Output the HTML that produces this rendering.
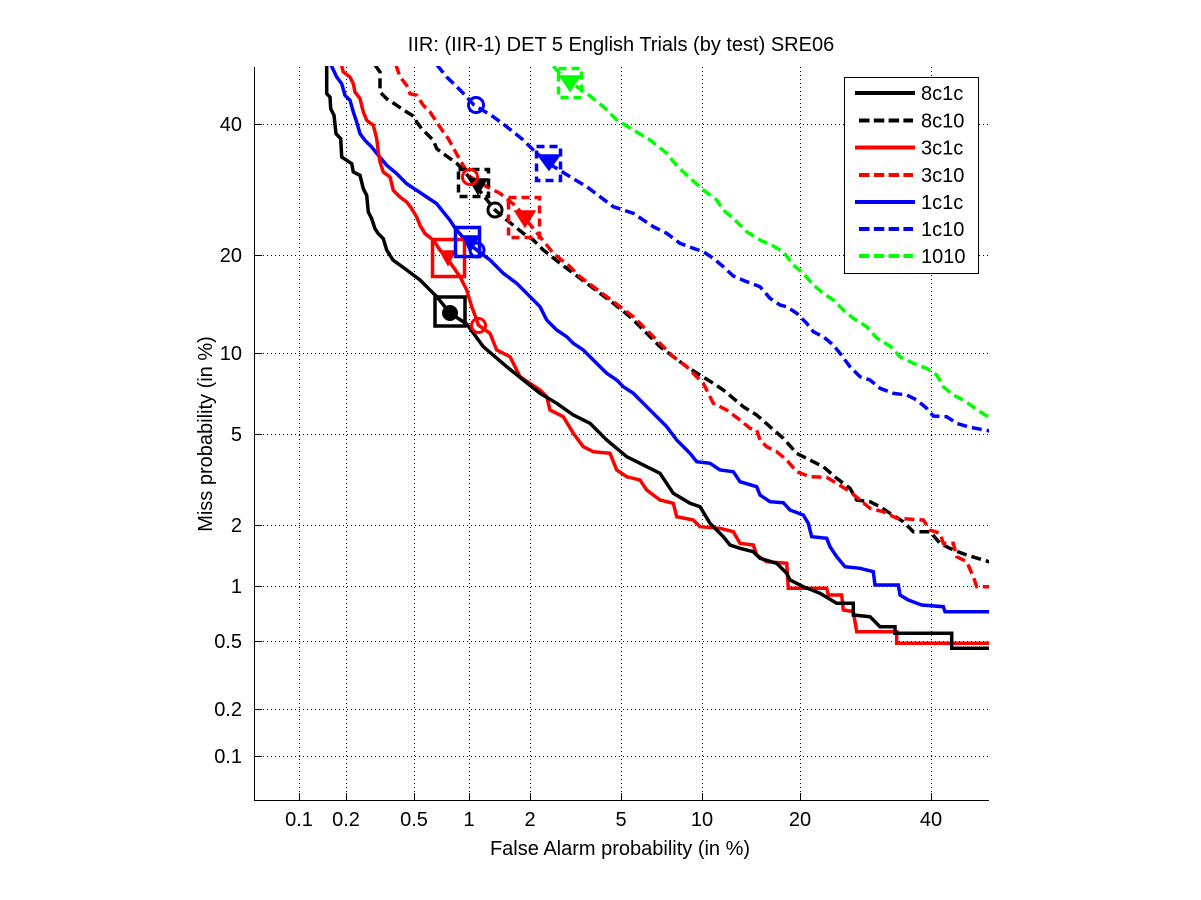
<!DOCTYPE html>
<html><head><meta charset="utf-8"><style>
html,body{margin:0;padding:0;background:#fff;}
svg{display:block;}
text{font-family:"Liberation Sans",Arial,sans-serif;font-size:20px;fill:#000;}
</style></head><body>
<svg width="1201" height="900" viewBox="0 0 1201 900" xmlns="http://www.w3.org/2000/svg">
<rect x="0" y="0" width="1201" height="900" fill="#fff"/>
<defs><clipPath id="pc"><rect x="254" y="66" width="735" height="735"/></clipPath></defs>
<!-- grid -->
<g stroke="#000" stroke-width="1" stroke-dasharray="1 3" fill="none">
<line x1="299.5" y1="67" x2="299.5" y2="800"/>
<line x1="346.5" y1="67" x2="346.5" y2="800"/>
<line x1="414.5" y1="67" x2="414.5" y2="800"/>
<line x1="469.5" y1="67" x2="469.5" y2="800"/>
<line x1="530.5" y1="67" x2="530.5" y2="800"/>
<line x1="621.5" y1="67" x2="621.5" y2="800"/>
<line x1="702.5" y1="67" x2="702.5" y2="800"/>
<line x1="800.5" y1="67" x2="800.5" y2="800"/>
<line x1="931.5" y1="67" x2="931.5" y2="800"/>
<line x1="255" y1="124.5" x2="988" y2="124.5"/>
<line x1="255" y1="255.5" x2="988" y2="255.5"/>
<line x1="255" y1="353.5" x2="988" y2="353.5"/>
<line x1="255" y1="434.5" x2="988" y2="434.5"/>
<line x1="255" y1="525.5" x2="988" y2="525.5"/>
<line x1="255" y1="586.5" x2="988" y2="586.5"/>
<line x1="255" y1="641.5" x2="988" y2="641.5"/>
<line x1="255" y1="709.5" x2="988" y2="709.5"/>
<line x1="255" y1="756.5" x2="988" y2="756.5"/>
</g>
<!-- axes -->
<g stroke="#000" stroke-width="1" fill="none">
<line x1="254.5" y1="67" x2="254.5" y2="801"/>
<line x1="254" y1="800.5" x2="989" y2="800.5"/>
<line x1="299.5" y1="800" x2="299.5" y2="793"/>
<line x1="346.5" y1="800" x2="346.5" y2="793"/>
<line x1="414.5" y1="800" x2="414.5" y2="793"/>
<line x1="469.5" y1="800" x2="469.5" y2="793"/>
<line x1="530.5" y1="800" x2="530.5" y2="793"/>
<line x1="621.5" y1="800" x2="621.5" y2="793"/>
<line x1="702.5" y1="800" x2="702.5" y2="793"/>
<line x1="800.5" y1="800" x2="800.5" y2="793"/>
<line x1="931.5" y1="800" x2="931.5" y2="793"/>
<line x1="255" y1="124.5" x2="262" y2="124.5"/>
<line x1="255" y1="255.5" x2="262" y2="255.5"/>
<line x1="255" y1="353.5" x2="262" y2="353.5"/>
<line x1="255" y1="434.5" x2="262" y2="434.5"/>
<line x1="255" y1="525.5" x2="262" y2="525.5"/>
<line x1="255" y1="586.5" x2="262" y2="586.5"/>
<line x1="255" y1="641.5" x2="262" y2="641.5"/>
<line x1="255" y1="709.5" x2="262" y2="709.5"/>
<line x1="255" y1="756.5" x2="262" y2="756.5"/>
</g>
<!-- tick labels -->
<g text-anchor="middle">
<text x="299" y="826">0.1</text>
<text x="346" y="826">0.2</text>
<text x="414" y="826">0.5</text>
<text x="469" y="826">1</text>
<text x="530" y="826">2</text>
<text x="621" y="826">5</text>
<text x="702" y="826">10</text>
<text x="800" y="826">20</text>
<text x="931" y="826">40</text>
</g>
<g text-anchor="end">
<text x="242" y="131">40</text>
<text x="242" y="262">20</text>
<text x="242" y="360">10</text>
<text x="242" y="441">5</text>
<text x="242" y="532">2</text>
<text x="242" y="593">1</text>
<text x="242" y="648">0.5</text>
<text x="242" y="716">0.2</text>
<text x="242" y="763">0.1</text>
</g>
<text x="621" y="51" text-anchor="middle">IIR: (IIR-1) DET 5 English Trials (by test) SRE06</text>
<text x="620" y="855" text-anchor="middle">False Alarm probability (in %)</text>
<text transform="translate(212,434) rotate(-90)" text-anchor="middle">Miss probability (in %)</text>

<g clip-path="url(#pc)" fill="none" stroke-width="3.5" stroke-linejoin="miter">
<!-- 1010 green dashed -->
<polyline stroke="#00ff00" stroke-dasharray="10 5" points="553.3,66 561,75 570,82 586.7,93.3 603.3,106.7 616.7,120 633.3,130 650,140 666.7,153.3 677,166 690,178 703.3,190 716.7,200 723.3,210 733.3,218.3 746.7,231.7 760,240 773.3,246 783.3,251.7 793.3,265 803.3,273.3 813.3,285 823.3,293.3 833.3,300 843.3,310 853.3,318.3 866.7,326.7 876.7,338 890,346 900,356.7 913.3,363.3 926.7,368.3 936.7,375 943.3,386.7 953.3,395 963.3,400 973.3,407 985,415 990,417"/>
<!-- 1c10 blue dashed -->
<polyline stroke="#0000ff" stroke-dasharray="10 5" points="437,65 446.7,77 453.3,83.3 463.3,93.3 474,105 493.3,116.7 506.7,126.7 523.3,140 533.3,150 548,163 570,176.7 586.7,186.7 600,196.7 613.3,206.7 633.3,213.3 653.3,226.7 666.7,233.3 680,243.3 693.3,248.3 703.3,251.7 713.3,258.3 723.3,266.7 733.3,276 746.7,281.7 760,286.7 770,298.3 780,305 786.7,306.7 796.7,313.3 806.7,323.3 813.3,331.7 823.3,336.7 833.3,345 840,353.3 850,366.7 860,376.7 870,380 880,388.3 893.3,393.3 906.7,395 916.7,400 926.7,408.3 933.3,416 946.7,416.7 956.7,423.3 970,427.3 990,431"/>
<!-- 8c10 black dashed -->
<polyline stroke="#000" stroke-dasharray="10 5" points="375,65 380,72 380,92 386.7,98.7 396.7,105.3 406.7,112 415,117 416.7,122 421.7,128.7 433.3,140.3 436.7,148.7 443.3,153.7 456.7,163.3 463.3,170 473,182 483,195 495,210 506.7,220 523.3,233.3 533.3,240 543.3,250 560,263.3 573.3,273.3 586.7,283.3 600,293.3 613.3,303.3 630,316.7 646.7,333.3 660,346.7 673.3,356.7 686.7,366.7 700,375 713.3,383.3 723.3,390 733.3,398.3 743.3,406.7 756.7,415 770,426.7 783.3,438.3 796.7,453.3 810,460 823.3,466.7 836.7,478.3 850,488.3 856.7,500 870,501.7 880,506.7 890,513.3 903.3,521.7 913.3,531.7 930,531.7 940,543.3 953.3,550 966.7,555 983.3,560 990,562"/>
<!-- 3c10 red dashed -->
<polyline stroke="#ff0000" stroke-dasharray="10 5" points="396,65 400,77 406.7,85.3 410,93.7 416.7,95.3 423.3,105.3 430,112 436.7,122 443.3,132 448.3,138.7 460,160 470,176.7 486.7,186.7 500,193.3 516.7,206.7 524,217 540,236.7 553.3,253.3 570,266.7 580,276.7 593.3,286.7 606.7,296.7 620,306.7 633.3,316.7 646.7,330 660,343.3 673.3,356.7 686.7,366.7 690,370 703.3,383.3 713.3,403.3 726.7,410 740,420 750,428.3 756.7,430 760,440 766.7,446.7 776.7,451.7 786.7,460 796.7,471.7 810,476.7 826.7,477.3 836.7,483.3 850,491.7 860,500 870,508.3 883.3,511.7 896.7,518.3 923.3,520 930,530 940,533.3 943.3,543.3 953.3,543.3 956.7,556.7 966.7,561.7 973.3,576.7 976.7,586.7 990,586.7"/>
<!-- 1c1c blue solid -->
<polyline stroke="#0000ff" points="331,65 336.7,77 341.7,83.7 345,95.3 350,100.3 353.3,112 356.7,122 360,133.7 365,140.3 371.7,147 378.3,155.3 386.7,165.3 396.7,173.7 406.7,183.7 416.7,190.3 426.7,197 436.7,203.7 443.3,212 450,220.3 455,228 467,242 476.7,250 490,260 503.3,273.3 516.7,283.3 526.7,293.3 540,306.7 546.7,320 556.7,330 566.7,336.7 573.3,343.3 583.3,350 593.3,360 606.7,373.3 616.7,380 623.3,386.7 633.3,393.3 643.3,403.3 656.7,416.7 666.7,426.7 676.7,440 686.7,450 690,453.3 696.7,461.7 710,463.3 720,470 733.3,471.7 740,481.7 756.7,486.7 760,495 770,501.7 783.3,502.7 790,510 803.3,515 808.3,523.3 811.7,536.7 826.7,538.3 830,546.7 836.7,556.7 845,566.7 860,568.3 873.3,571.7 875,585 898.3,585 900,595 908.3,600 921.7,605 943.3,606.7 945,611.7 990,611.7"/>
<!-- 3c1c red solid -->
<polyline stroke="#ff0000" points="341.5,65 343.3,72 350,77 353.3,83.7 355,92 360,98.7 363.3,112 366.7,120.3 373.3,125.3 376.7,138.7 378.3,152 380,162 383.3,172 390,177 393.3,190.3 400,197 406.7,202 411.7,208.7 416.7,217 420,225.3 425,233.7 433.3,240 440,250 447,258 460,276.7 466.7,290 471.7,306.7 476,318 478.3,325 490,333.3 496.7,350 510,356.7 520,376.7 530,383.3 540,390 546.7,396.7 550,410 563.3,416.7 573.3,433.3 583.3,446.7 593.3,451.7 610,453.3 616.7,470 626.7,476.7 640,480 646.7,490 660,500 673.3,503.3 676.7,516.7 693.3,520 700,526.7 720,528.3 733.3,531.7 740,543.3 753.3,545 756.7,555 766.7,561.7 786.7,563.3 788.3,588.3 826.7,588.3 828.3,595 841.7,595 843.3,610 853.3,611.7 856.7,631.7 896.7,631.7 896.7,643.3 990,643.3"/>
<!-- 8c1c black solid -->
<polyline stroke="#000" points="326.7,65 326.7,93.7 330,97 330.7,108.7 334,115.3 336,133.7 340.7,138.7 341.7,157 346.7,160.3 351.7,163.7 353.3,172 360,175.3 363.3,188.7 366.7,195.3 368.3,212 371.7,218.7 375,228.7 378.3,233.7 383.3,238.7 386.7,250 393,260 406.7,270 420,280 430,290 436.7,296.7 450,313 466.7,324 483.3,346.7 506.7,366.7 523.3,380 540,393.3 556.7,403.3 573.3,415 590,423.3 606.7,440 626.7,456.7 646.7,466.7 660,473.3 673.3,493.3 690,503.3 700,506.7 710,523.3 723.3,536.7 730,545 740,548.3 753.3,551.7 760,558.3 776.7,563.3 786.7,573.3 790,580 803.3,586.7 820,593.3 836.7,603.3 853.3,603.3 853.3,615 870,616.7 880,626.7 895,626.7 895,633.3 951.7,633.3 951.7,648.3 990,648.3"/>
</g>

<!-- markers -->
<g fill="none" stroke-width="3.5">
<rect x="435" y="297" width="30" height="29" stroke="#000"/>
<circle cx="450" cy="313" r="7" fill="#000" stroke="#000" stroke-width="2"/>
<rect x="432.5" y="239.5" width="32" height="37" stroke="#ff0000"/>
<polygon points="440,251 455,251 448,265" fill="#ff0000" stroke="#ff0000" stroke-width="1.5"/>
<circle cx="478.5" cy="325.5" r="7" stroke="#ff0000" stroke-width="3"/>
<rect x="455.5" y="227.5" width="24" height="29" stroke="#0000ff"/>
<polygon points="463,236 479,236 470,252" fill="#0000ff" stroke="#0000ff" stroke-width="1.5"/>
<circle cx="477" cy="250" r="7" stroke="#0000ff" stroke-width="3"/>
<rect x="458.5" y="169.5" width="30" height="27" stroke="#000" stroke-dasharray="8 5"/>
<polygon points="469,179 487,179 478,194" fill="#000" stroke="#000" stroke-width="1.5"/>
<circle cx="495" cy="210" r="7" stroke="#000" stroke-width="3"/>
<circle cx="495" cy="210" r="1.5" fill="#000" stroke="none"/>
<circle cx="470" cy="177" r="7.5" stroke="#ff0000" stroke-width="3"/>
<circle cx="470" cy="177" r="1.5" fill="#000" stroke="none"/>
<rect x="508.5" y="197.5" width="31" height="40" stroke="#ff0000" stroke-dasharray="8 5"/>
<polygon points="515,211 535,211 525,227" fill="#ff0000" stroke="#ff0000" stroke-width="1.5"/>
<rect x="536.5" y="146.5" width="24" height="34" stroke="#0000ff" stroke-dasharray="8 5"/>
<polygon points="538,155 560,155 549,170" fill="#0000ff" stroke="#0000ff" stroke-width="1.5"/>
<circle cx="476" cy="105" r="7.5" stroke="#0000ff" stroke-width="3"/>
<rect x="558.5" y="68.5" width="23" height="29" stroke="#00ff00" stroke-dasharray="8 5"/>
<polygon points="560,76 580,76 570,91" fill="#00ff00" stroke="#00ff00" stroke-width="1.5"/>
</g>

<!-- legend -->
<rect x="844.5" y="77.5" width="134" height="196" fill="#fff" stroke="#000" stroke-width="1"/>
<g stroke-width="4" fill="none">
<line x1="855" y1="93" x2="915" y2="93" stroke="#000"/>
<line x1="859" y1="120.5" x2="913" y2="120.5" stroke="#000" stroke-dasharray="10.5 4.3"/>
<line x1="855" y1="147.5" x2="915" y2="147.5" stroke="#ff0000"/>
<line x1="859" y1="175" x2="913" y2="175" stroke="#ff0000" stroke-dasharray="10.5 4.3"/>
<line x1="855" y1="202" x2="915" y2="202" stroke="#0000ff"/>
<line x1="859" y1="229" x2="913" y2="229" stroke="#0000ff" stroke-dasharray="10.5 4.3"/>
<line x1="859" y1="256" x2="913" y2="256" stroke="#00ff00" stroke-dasharray="10.5 4.3"/>
</g>
<g>
<text x="921" y="100">8c1c</text>
<text x="921" y="127.5">8c10</text>
<text x="921" y="154.5">3c1c</text>
<text x="921" y="182">3c10</text>
<text x="921" y="209">1c1c</text>
<text x="921" y="236">1c10</text>
<text x="921" y="263">1010</text>
</g>
</svg>
</body></html>
